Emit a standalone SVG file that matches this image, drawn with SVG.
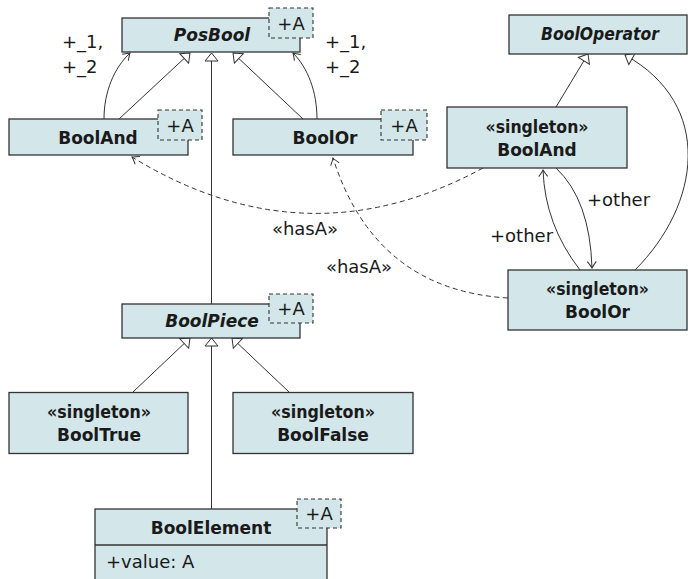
<svg xmlns="http://www.w3.org/2000/svg" width="688" height="579" viewBox="0 0 688 579">
  <style>
    .cls { fill: #d3e6e9; stroke: #333; stroke-width: 1.3; }
    .tpl { fill: #d3e6e9; stroke: #333; stroke-width: 1.1; stroke-dasharray: 4 3; }
    .name { font-family: "DejaVu Sans", sans-serif; font-size: 17px; font-weight: bold; fill: #1a1a1a; text-anchor: middle; }
    .abs { font-style: italic; }
    .lbl { font-family: "DejaVu Sans", sans-serif; font-size: 18px; fill: #1a1a1a; }
    .mid { text-anchor: middle; }
    .edge { fill: none; stroke: #333; stroke-width: 1; }
    .gen { marker-end: url(#tri); }
    .assoc { marker-end: url(#open); }
    .dash { stroke-dasharray: 5 3.5; }
  </style>
  <defs>
    <marker id="tri" markerUnits="userSpaceOnUse" viewBox="-10 -8 12 16" refX="0" refY="0" markerWidth="12" markerHeight="16" orient="auto">
      <path d="M0,0 L-8,-6.5 L-8,6.5 Z" fill="#fff" stroke="#333" stroke-width="1"/>
    </marker>
    <marker id="open" markerUnits="userSpaceOnUse" viewBox="-8 -6 10 12" refX="0" refY="0" markerWidth="10" markerHeight="12" orient="auto">
      <path d="M-6.5,-4.5 Q-2,-1 0,0 Q-2,1 -6.5,4.5" fill="none" stroke="#333" stroke-width="1"/>
    </marker>
  </defs>

  <!-- connectors -->
  <g id="connectors">
    <!-- inheritance to PosBool -->
    <path class="edge gen" d="M119,119 L190,53"/>
    <path class="edge gen" d="M303,119 L233,53"/>
    <path class="edge gen" d="M211.5,304 L211.5,53"/>
    <!-- member associations to PosBool -->
    <path class="edge assoc" d="M104,119 C104,92 114,68 130,53"/>
    <path class="edge assoc" d="M317,119 C317,92 308,68 293,53"/>
    <!-- inheritance to BoolPiece -->
    <path class="edge gen" d="M133,392 L190,338"/>
    <path class="edge gen" d="M289,392 L232,338"/>
    <path class="edge gen" d="M211.5,509 L211.5,338"/>
    <!-- inheritance to BoolOperator -->
    <path class="edge gen" d="M556,107 L588,54"/>
    <path class="edge gen" d="M635,270 C700,205 715,105 625,55"/>
    <!-- other links between singletons -->
    <path class="edge assoc" d="M556,168 Q590,200 592,268"/>
    <path class="edge assoc" d="M580,270 Q545,225 543,170"/>
    <!-- hasA dependencies -->
    <path class="edge dash assoc" d="M483,168 Q306,264 132,157"/>
    <path class="edge dash assoc" d="M508,298 Q375,290 333,158"/>

    <text class="lbl" x="62" y="48">+_1,</text>
    <text class="lbl" x="62" y="73">+_2</text>
    <text class="lbl" x="325" y="48">+_1,</text>
    <text class="lbl" x="325" y="73">+_2</text>
    <text class="lbl" x="587" y="206">+other</text>
    <text class="lbl" x="490" y="242">+other</text>
    <text class="lbl mid" x="305" y="235">«hasA»</text>
    <text class="lbl mid" x="359" y="273">«hasA»</text>
  </g>

  <g id="PosBool">
    <rect class="cls" x="122" y="18" width="178" height="34"/>
    <text class="name abs" x="212" y="41">PosBool</text>
    <rect class="tpl" x="269" y="8" width="44" height="30"/>
    <text class="lbl mid" x="291" y="29.5">+A</text>
  </g>

  <g id="BoolAnd">
    <rect class="cls" x="9" y="119" width="179" height="36"/>
    <text class="name" x="98" y="144">BoolAnd</text>
    <rect class="tpl" x="158" y="110" width="44" height="30"/>
    <text class="lbl mid" x="180" y="131.5">+A</text>
  </g>

  <g id="BoolOr">
    <rect class="cls" x="233" y="119" width="180" height="36"/>
    <text class="name" x="325" y="144">BoolOr</text>
    <rect class="tpl" x="381" y="110" width="46" height="30"/>
    <text class="lbl mid" x="404" y="131.5">+A</text>
  </g>

  <g id="BoolOperator">
    <rect class="cls" x="509" y="15" width="178" height="39"/>
    <text class="name abs" x="600" y="40" textLength="118" lengthAdjust="spacingAndGlyphs">BoolOperator</text>
  </g>

  <g id="SingletonBoolAnd">
    <rect class="cls" x="447" y="107" width="180" height="61"/>
    <text class="name" x="537" y="132.5" textLength="103" lengthAdjust="spacingAndGlyphs">«singleton»</text>
    <text class="name" x="537" y="155.5">BoolAnd</text>
  </g>

  <g id="SingletonBoolOr">
    <rect class="cls" x="508" y="270" width="179" height="60"/>
    <text class="name" x="597.5" y="295" textLength="103" lengthAdjust="spacingAndGlyphs">«singleton»</text>
    <text class="name" x="597.5" y="318">BoolOr</text>
  </g>

  <g id="BoolPiece">
    <rect class="cls" x="122" y="304" width="178" height="34"/>
    <text class="name abs" x="212" y="327">BoolPiece</text>
    <rect class="tpl" x="269" y="294" width="44" height="29"/>
    <text class="lbl mid" x="291" y="315">+A</text>
  </g>

  <g id="BoolTrue">
    <rect class="cls" x="9" y="392.5" width="179" height="61"/>
    <text class="name" x="99" y="418" textLength="104" lengthAdjust="spacingAndGlyphs">«singleton»</text>
    <text class="name" x="99" y="441">BoolTrue</text>
  </g>

  <g id="BoolFalse">
    <rect class="cls" x="233" y="392.5" width="180" height="61"/>
    <text class="name" x="323" y="418" textLength="104" lengthAdjust="spacingAndGlyphs">«singleton»</text>
    <text class="name" x="323" y="441">BoolFalse</text>
  </g>

  <g id="BoolElement">
    <rect class="cls" x="95" y="509" width="232" height="80"/>
    <line x1="95" y1="545" x2="327" y2="545" stroke="#333" stroke-width="1.3"/>
    <text class="name" x="211" y="534">BoolElement</text>
    <rect class="tpl" x="297" y="499" width="44" height="29"/>
    <text class="lbl mid" x="319" y="520">+A</text>
    <text class="lbl" x="106" y="568">+value: A</text>
  </g>
</svg>
